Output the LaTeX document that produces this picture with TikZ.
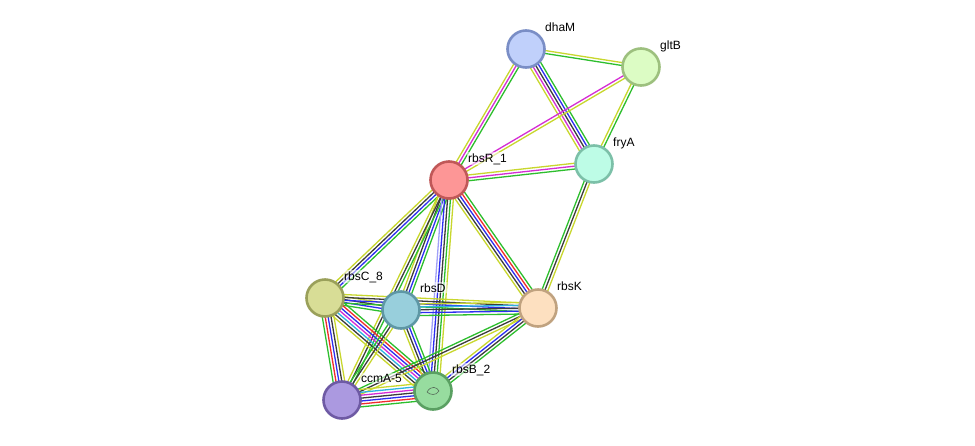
\documentclass[tikz,border=0pt]{standalone}
\usepackage{fontspec}
\setmainfont{Liberation Sans}
\usetikzlibrary{calc}
\definecolor{eG}{HTML}{2DBE2D}
\definecolor{eY}{HTML}{C8D72D}
\definecolor{eM}{HTML}{D42DD4}
\definecolor{eK}{HTML}{3C3C3C}
\definecolor{eB}{HTML}{2D2DF0}
\definecolor{eR}{HTML}{F02D2D}
\definecolor{eC}{HTML}{2DB4E0}
\definecolor{eL}{HTML}{A0A0F8}
\definecolor{fdhaM}{HTML}{C0D0FB}\definecolor{bdhaM}{HTML}{7A8EC6}
\definecolor{fgltB}{HTML}{DCFCC4}\definecolor{bgltB}{HTML}{9DC07E}
\definecolor{ffryA}{HTML}{BDFCE6}\definecolor{bfryA}{HTML}{7CC0A8}
\definecolor{frbsR}{HTML}{FD9696}\definecolor{brbsR}{HTML}{C05858}
\definecolor{frbsC}{HTML}{D8DD96}\definecolor{brbsC}{HTML}{9AA05A}
\definecolor{frbsD}{HTML}{98CFDC}\definecolor{brbsD}{HTML}{5E97A5}
\definecolor{frbsK}{HTML}{FDE0C0}\definecolor{brbsK}{HTML}{C0A27F}
\definecolor{fccmA}{HTML}{AB99E0}\definecolor{bccmA}{HTML}{6E5AA4}
\definecolor{frbsB}{HTML}{97DC9F}\definecolor{brbsB}{HTML}{5AA062}
\newcommand\mline[4]{%
  \foreach \c [count=\i] in {#4}{%
    \pgfmathsetmacro\o{(\i-(#3+1)/2)*2.9}%
    \draw[\c, line width=1.3pt] ($(#1)!\o pt!90:(#2)$) -- ($(#2)!\o pt!-90:(#1)$);
  }}
\tikzset{
  prot/.style={circle, minimum size=37pt, inner sep=0pt, line width=2.6pt},
  lab/.style={anchor=base west, font=\fontsize{12}{14}\selectfont, text=black,
    inner sep=1pt, fill=white, fill opacity=0.55, text opacity=1}
}
\begin{document}
\begin{tikzpicture}[x=1pt,y=-1pt]
\useasboundingbox[fill=white] (0,0) rectangle (975,445);
\coordinate (dhaM) at (526,49);
\coordinate (gltB) at (641,67);
\coordinate (fryA) at (594,164);
\coordinate (rbsR) at (449,180);
\coordinate (rbsC) at (325,298);
\coordinate (rbsD) at (401,310);
\coordinate (rbsK) at (538,308);
\coordinate (ccmA) at (342,400);
\coordinate (rbsB) at (433,391);
% edges
\mline{dhaM}{gltB}{2}{eG,eY}
\mline{dhaM}{rbsR}{3}{eY,eM,eG}
\mline{dhaM}{fryA}{5}{eY,eM,eK,eB,eG}
\mline{gltB}{rbsR}{2}{eM,eY}
\mline{gltB}{fryA}{2}{eY,eG}
\mline{rbsR}{fryA}{3}{eG,eM,eY}
\mline{fryA}{rbsK}{3}{eG,eK,eY}
\mline{rbsR}{rbsK}{5}{eY,eK,eB,eR,eG}
\mline{rbsR}{rbsC}{4}{eY,eK,eB,eG}
\mline{rbsR}{rbsD}{4}{eY,eK,eB,eG}
\mline{rbsR}{ccmA}{3}{eY,eK,eG}
\mline{rbsR}{rbsB}{5}{eL,eB,eK,eG,eY}
\mline{rbsC}{rbsD}{4}{eG,eB,eK,eY}
\mline{rbsC}{rbsK}{4}{eG,eB,eK,eY}
\mline{rbsC}{ccmA}{5}{eG,eR,eB,eK,eY}
\mline{rbsC}{rbsB}{7}{eY,eK,eC,eM,eB,eR,eG}
\mline{rbsD}{rbsK}{5}{eG,eB,eK,eC,eY}
\mline{rbsD}{ccmA}{3}{eG,eK,eY}
\mline{rbsD}{rbsB}{4}{eY,eK,eB,eG}
\mline{rbsK}{ccmA}{3}{eG,eK,eY}
\mline{rbsK}{rbsB}{4}{eY,eB,eK,eG}
\mline{ccmA}{rbsB}{7}{eG,eR,eB,eK,eM,eC,eY}
% nodes
\foreach \n in {dhaM,gltB,fryA,rbsR,rbsC,rbsD,rbsK,ccmA,rbsB}{
  \node[prot, fill=f\n, draw=b\n] (n\n) at (\n) {};
}
\draw[eK!70!frbsB, line width=0.6pt] ($(rbsB)+(-6,1)$) .. controls ($(rbsB)+(-2,-6)$) and ($(rbsB)+(4,-4)$) .. ($(rbsB)+(6,0)$) .. controls ($(rbsB)+(3,5)$) and ($(rbsB)+(-3,4)$) .. ($(rbsB)+(-6,1)$);
\node[lab] (ldhaM) at ($(dhaM)+(18,-18)$) {dhaM};
\node[lab] (lgltB) at ($(gltB)+(18,-18)$) {gltB};
\node[lab] (lfryA) at ($(fryA)+(18,-18)$) {fryA};
\node[lab] (lrbsR) at ($(rbsR)+(18,-18)$) {rbsR\_1};
\node[lab] (lrbsC) at ($(rbsC)+(18,-18)$) {rbsC\_8};
\node[lab] (lrbsD) at ($(rbsD)+(18,-18)$) {rbsD};
\node[lab] (lrbsK) at ($(rbsK)+(18,-18)$) {rbsK};
\node[lab] (lccmA) at ($(ccmA)+(18,-18)$) {ccmA-5};
\node[lab] (lrbsB) at ($(rbsB)+(18,-18)$) {rbsB\_2};
\end{tikzpicture}
\end{document}
